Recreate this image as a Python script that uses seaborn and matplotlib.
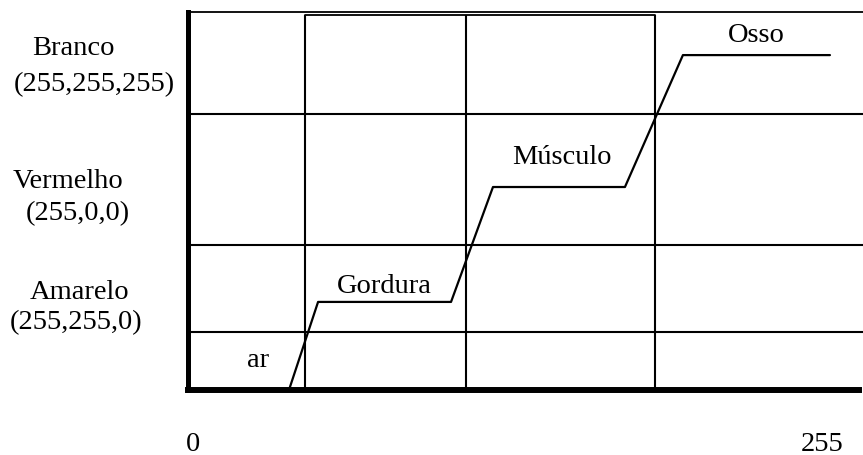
import matplotlib
matplotlib.use("Agg")
import matplotlib.pyplot as plt
import seaborn as sns

# transfer curve (input intensity -> colour level)
intensity = [38.9, 50.7, 104.6, 121.6, 175.1, 198.6, 258.2]
level = [0, 23.3, 23.3, 53.7, 53.7, 88.6, 88.6]

# grid of the drawing
grid_x = [45.4, 110.7, 187.3]
grid_y = [15.3, 38.4, 73.0]

tissues = ["ar", "Gordura", "Músculo", "Osso"]
color_names = ["Branco", "Vermelho", "Amarelo"]
color_rgb = ["(255,255,255)", "(255,0,0)", "(255,255,0)"]
x_ticks = [0, 255]
x_labels = ["0", "255"]

sns.set_theme(style="white")
plt.rcParams["font.family"] = ["Liberation Serif", "DejaVu Serif"]
plt.rcParams["text.color"] = "black"
plt.rcParams["xtick.color"] = "black"

FS = 20.5

fig = plt.figure(figsize=(8.63, 4.55), dpi=100)
ax = fig.add_axes([188 / 863, 65 / 455, 675 / 863, 378 / 455])
x0, x1 = -2.03, 271.6
ax.set_xlim(x0, x1)
ax.set_ylim(0, 100)

# grid lines
ax.hlines(grid_y, x0, x1, color="black", lw=1.5)
ax.vlines(grid_x, 0, 99.3, color="black", lw=1.5)
ax.plot([grid_x[0], grid_x[2]], [99.3, 99.3], color="black", lw=1.3, clip_on=False)

# curve
sns.lineplot(x=intensity, y=level, sort=False, estimator=None,
             color="black", lw=1.6, ax=ax)

# tissue labels
tissue_pos = [(26.5, 7.9), (77.4, 27.5), (149.6, 61.4), (228.2, 93.8)]
for name, (tx, ty) in zip(tissues, tissue_pos):
    ax.text(tx, ty, name, ha="center", va="center", fontsize=FS, color="black")

# colour labels on the left
name_pos = [(-48.6, 88.6), (-50.7, 53.4), (-45.8, 24.2)]
rgb_pos = [(-40.1, 79.1), (-46.6, 44.9), (-47.4, 16.0)]
for name, rgb, (nx, ny), (rx, ry) in zip(color_names, color_rgb, name_pos, rgb_pos):
    ax.text(nx, ny, name, ha="center", va="baseline", fontsize=FS,
            color="black", clip_on=False)
    ax.text(rx, ry, rgb, ha="center", va="baseline", fontsize=FS,
            color="black", clip_on=False)

ax.set_xticks(x_ticks)
ax.set_xticklabels(x_labels, fontsize=FS)
ax.set_yticks([])
ax.tick_params(axis="x", length=0, pad=30, colors="black")

for s in ["left", "bottom", "top"]:
    ax.spines[s].set_color("black")
ax.spines["left"].set_linewidth(3.6)
ax.spines["bottom"].set_linewidth(4.3)
ax.spines["bottom"].set_bounds(x0, 270.0)
ax.spines["top"].set_linewidth(1.3)
ax.spines["right"].set_visible(False)

fig.savefig("out.png", dpi=100)
